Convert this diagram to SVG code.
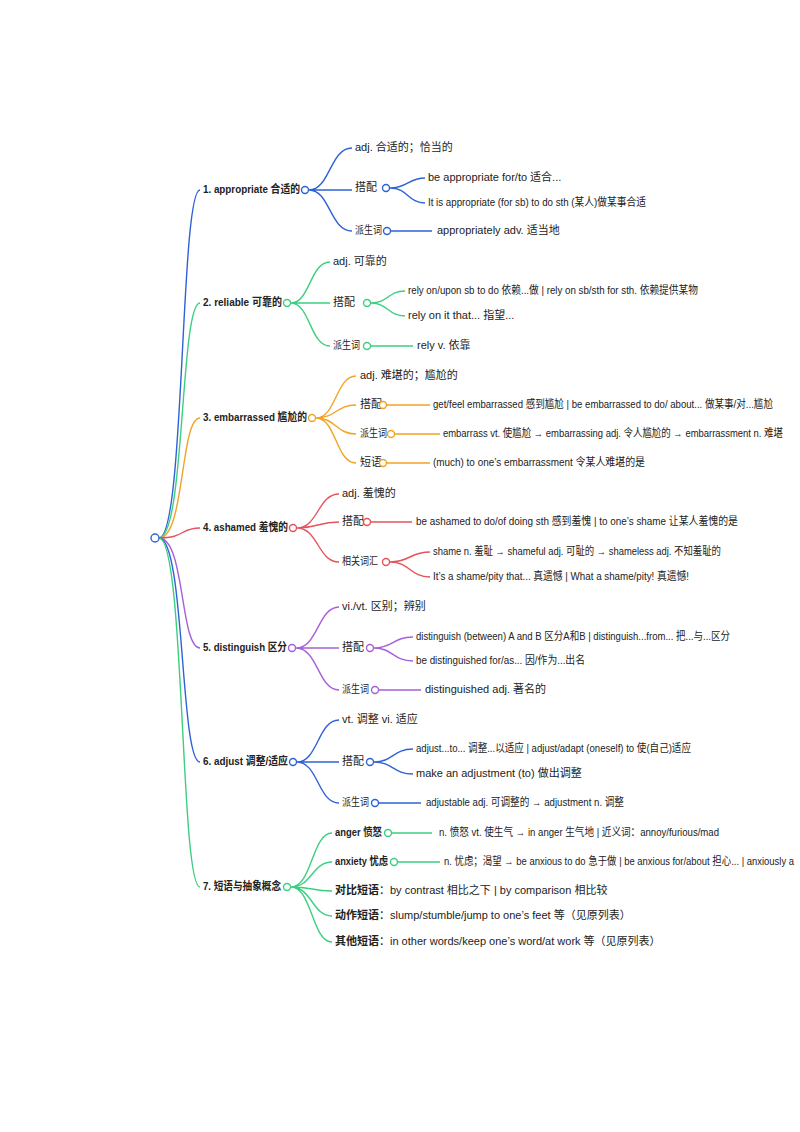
<svg xmlns="http://www.w3.org/2000/svg" width="800" height="1132" viewBox="0 0 800 1132">
<style>
text{font-family:"Liberation Sans","Noto Sans CJK SC",sans-serif;font-size:11px;fill:#222;dominant-baseline:middle}
.b{font-weight:bold}
path{fill:none;stroke-width:1.4}
circle{fill:#fff;stroke-width:1.4}
.c1{stroke:#2f62d6}.c2{stroke:#3ccf80}.c3{stroke:#f3a324}.c4{stroke:#e5535e}.c5{stroke:#a760d8}
</style>
<rect width="800" height="1132" fill="#fff"/>
<g id="connectors">
<path class="c1" d="M159 538 C185 538,180 190,200 190"/>
<path class="c2" d="M159 538 C185 538,180 303,200 303"/>
<path class="c3" d="M159 538 C185 538,180 418,200 418"/>
<path class="c4" d="M159 538 C185 538,180 528,200 528"/>
<path class="c5" d="M159 538 C185 538,180 648,200 648"/>
<path class="c1" d="M159 538 C185 538,180 762,200 762"/>
<path class="c2" d="M159 538 C185 538,180 887,200 887"/>
<path class="c1" d="M309 190 C330 190,330 148,352 148 M309 190 L352 190 M309 190 C330 190,330 231,352 231"/>
<path class="c1" d="M390 188 C408 188,408 178,425 178 M390 188 C408 188,408 203,425 203 M391 231 L432 231"/>
<path class="c2" d="M291 303 C310 303,310 262,330 262 M291 303 L330 303 M291 303 C310 303,310 346,330 346"/>
<path class="c2" d="M371 303 C388 303,388 291,405 291 M371 303 C388 303,388 316,405 316 M371 346 L413 346"/>
<path class="c3" d="M316 418 C336 418,336 376,356 376 M316 418 C336 418,336 405,356 405 M316 418 C336 418,336 434,356 434 M316 418 C336 418,336 463,356 463"/>
<path class="c3" d="M387 405 L430 405 M395 434 L440 434 M387 463 L430 463"/>
<path class="c4" d="M297 528 C318 528,318 494,339 494 M297 528 C318 528,318 522,339 522 M297 528 C318 528,318 562,339 562"/>
<path class="c4" d="M371 522 L412 522 M390 562 C410 562,410 552,430 552 M390 562 C410 562,410 577,430 577"/>
<path class="c5" d="M296 648 C318 648,318 607,339 607 M296 648 L339 648 M296 648 C318 648,318 690,339 690"/>
<path class="c5" d="M374 648 C393 648,393 637,413 637 M374 648 C393 648,393 661,413 661 M379 690 L421 690"/>
<path class="c1" d="M297 762 C318 762,318 720,339 720 M297 762 L339 762 M297 762 C318 762,318 803,339 803"/>
<path class="c1" d="M374 762 C393 762,393 749,413 749 M374 762 C393 762,393 774,413 774 M379 803 L421 803"/>
<path class="c2" d="M291 887 C312 887,312 833,332 833 M291 887 C312 887,312 862,332 862 M291 887 C312 887,312 891,332 891 M291 887 C312 887,312 916,332 916 M291 887 C312 887,312 942,332 942"/>
<path class="c2" d="M392 833 L432 833 M398 862 L440 862"/>
</g>
<g id="root"><circle class="c1" cx="155" cy="538" r="4"/></g>
<g id="n1"><text x="203" y="190" class="b" textLength="97" lengthAdjust="spacingAndGlyphs">1. appropriate 合适的</text><circle class="c1" cx="305" cy="190" r="3.5"/>
<text x="355" y="148">adj. 合适的；恰当的</text>
<text x="355" y="188">搭配</text><circle class="c1" cx="386" cy="188" r="3.5"/>
<text x="428" y="178">be appropriate for/to 适合...</text>
<text x="428" y="203" textLength="218" lengthAdjust="spacingAndGlyphs">It is appropriate (for sb) to do sth (某人)做某事合适</text>
<text x="355" y="231" textLength="27" lengthAdjust="spacingAndGlyphs">派生词</text><circle class="c1" cx="387" cy="231" r="3.5"/>
<text x="437" y="231">appropriately adv. 适当地</text></g>
<g id="n2"><text x="203" y="303" class="b" textLength="79" lengthAdjust="spacingAndGlyphs">2. reliable 可靠的</text><circle class="c2" cx="287" cy="303" r="3.5"/>
<text x="333" y="262">adj. 可靠的</text>
<text x="333" y="303">搭配</text><circle class="c2" cx="367" cy="303" r="3.5"/>
<text x="408" y="291" textLength="290" lengthAdjust="spacingAndGlyphs">rely on/upon sb to do 依赖...做 | rely on sb/sth for sth. 依赖提供某物</text>
<text x="408" y="316">rely on it that... 指望...</text>
<text x="333" y="346" textLength="27" lengthAdjust="spacingAndGlyphs">派生词</text><circle class="c2" cx="367" cy="346" r="3.5"/>
<text x="417" y="346">rely v. 依靠</text></g>
<g id="n3"><text x="203" y="418" class="b" textLength="104" lengthAdjust="spacingAndGlyphs">3. embarrassed 尴尬的</text><circle class="c3" cx="312" cy="418" r="3.5"/>
<text x="360" y="376">adj. 难堪的；尴尬的</text>
<text x="360" y="405">搭配</text><circle class="c3" cx="383" cy="405" r="3.5"/>
<text x="433" y="405" textLength="340" lengthAdjust="spacingAndGlyphs">get/feel embarrassed 感到尴尬 | be embarrassed to do/ about... 做某事/对...尴尬</text>
<text x="360" y="434" textLength="27" lengthAdjust="spacingAndGlyphs">派生词</text><circle class="c3" cx="391" cy="434" r="3.5"/>
<text x="443" y="434" textLength="340" lengthAdjust="spacingAndGlyphs">embarrass vt. 使尴尬 → embarrassing adj. 令人尴尬的 → embarrassment n. 难堪</text>
<text x="360" y="463">短语</text><circle class="c3" cx="383" cy="463" r="3.5"/>
<text x="433" y="463" textLength="212" lengthAdjust="spacingAndGlyphs">(much) to one’s embarrassment 令某人难堪的是</text></g>
<g id="n4"><text x="203" y="528" class="b" textLength="85" lengthAdjust="spacingAndGlyphs">4. ashamed 羞愧的</text><circle class="c4" cx="293" cy="528" r="3.5"/>
<text x="342" y="494">adj. 羞愧的</text>
<text x="342" y="522">搭配</text><circle class="c4" cx="367" cy="522" r="3.5"/>
<text x="416" y="522" textLength="322" lengthAdjust="spacingAndGlyphs">be ashamed to do/of doing sth 感到羞愧 | to one’s shame 让某人羞愧的是</text>
<text x="342" y="562" textLength="36" lengthAdjust="spacingAndGlyphs">相关词汇</text><circle class="c4" cx="386" cy="562" r="3.5"/>
<text x="433" y="552" textLength="288" lengthAdjust="spacingAndGlyphs">shame n. 羞耻 → shameful adj. 可耻的 → shameless adj. 不知羞耻的</text>
<text x="433" y="577" textLength="256" lengthAdjust="spacingAndGlyphs">It’s a shame/pity that... 真遗憾 | What a shame/pity! 真遗憾!</text></g>
<g id="n5"><text x="203" y="648" class="b" textLength="84" lengthAdjust="spacingAndGlyphs">5. distinguish 区分</text><circle class="c5" cx="292" cy="648" r="3.5"/>
<text x="342" y="607">vi./vt. 区别；辨别</text>
<text x="342" y="648">搭配</text><circle class="c5" cx="370" cy="648" r="3.5"/>
<text x="416" y="637" textLength="314" lengthAdjust="spacingAndGlyphs">distinguish (between) A and B 区分A和B | distinguish...from... 把...与...区分</text>
<text x="416" y="661" textLength="169" lengthAdjust="spacingAndGlyphs">be distinguished for/as... 因/作为...出名</text>
<text x="342" y="690" textLength="27" lengthAdjust="spacingAndGlyphs">派生词</text><circle class="c5" cx="375" cy="690" r="3.5"/>
<text x="425" y="690">distinguished adj. 著名的</text></g>
<g id="n6"><text x="203" y="762" class="b" textLength="85" lengthAdjust="spacingAndGlyphs">6. adjust 调整/适应</text><circle class="c1" cx="293" cy="762" r="3.5"/>
<text x="342" y="720">vt. 调整 vi. 适应</text>
<text x="342" y="762">搭配</text><circle class="c1" cx="370" cy="762" r="3.5"/>
<text x="416" y="749" textLength="275" lengthAdjust="spacingAndGlyphs">adjust...to... 调整...以适应 | adjust/adapt (oneself) to 使(自己)适应</text>
<text x="416" y="774">make an adjustment (to) 做出调整</text>
<text x="342" y="803" textLength="27" lengthAdjust="spacingAndGlyphs">派生词</text><circle class="c1" cx="375" cy="803" r="3.5"/>
<text x="426" y="803" textLength="198" lengthAdjust="spacingAndGlyphs">adjustable adj. 可调整的 → adjustment n. 调整</text></g>
<g id="n7"><text x="203" y="887" class="b" textLength="78" lengthAdjust="spacingAndGlyphs">7. 短语与抽象概念</text><circle class="c2" cx="287" cy="887" r="3.5"/>
<text x="335" y="833" class="b" textLength="47" lengthAdjust="spacingAndGlyphs">anger 愤怒</text><circle class="c2" cx="388" cy="833" r="3.5"/>
<text x="439" y="833" textLength="280" lengthAdjust="spacingAndGlyphs">n. 愤怒 vt. 使生气 → in anger 生气地 | 近义词：annoy/furious/mad</text>
<text x="335" y="862" class="b" textLength="53" lengthAdjust="spacingAndGlyphs">anxiety 忧虑</text><circle class="c2" cx="394" cy="862" r="3.5"/>
<text x="444" y="862" textLength="350" lengthAdjust="spacingAndGlyphs">n. 忧虑；渴望 → be anxious to do 急于做 | be anxious for/about 担心... | anxiously a</text>
<text x="335" y="891"><tspan class="b">对比短语</tspan>：by contrast 相比之下 | by comparison 相比较</text>
<text x="335" y="916"><tspan class="b">动作短语</tspan>：slump/stumble/jump to one’s feet 等（见原列表）</text>
<text x="335" y="942"><tspan class="b">其他短语</tspan>：in other words/keep one’s word/at work 等（见原列表）</text></g>
</svg>
